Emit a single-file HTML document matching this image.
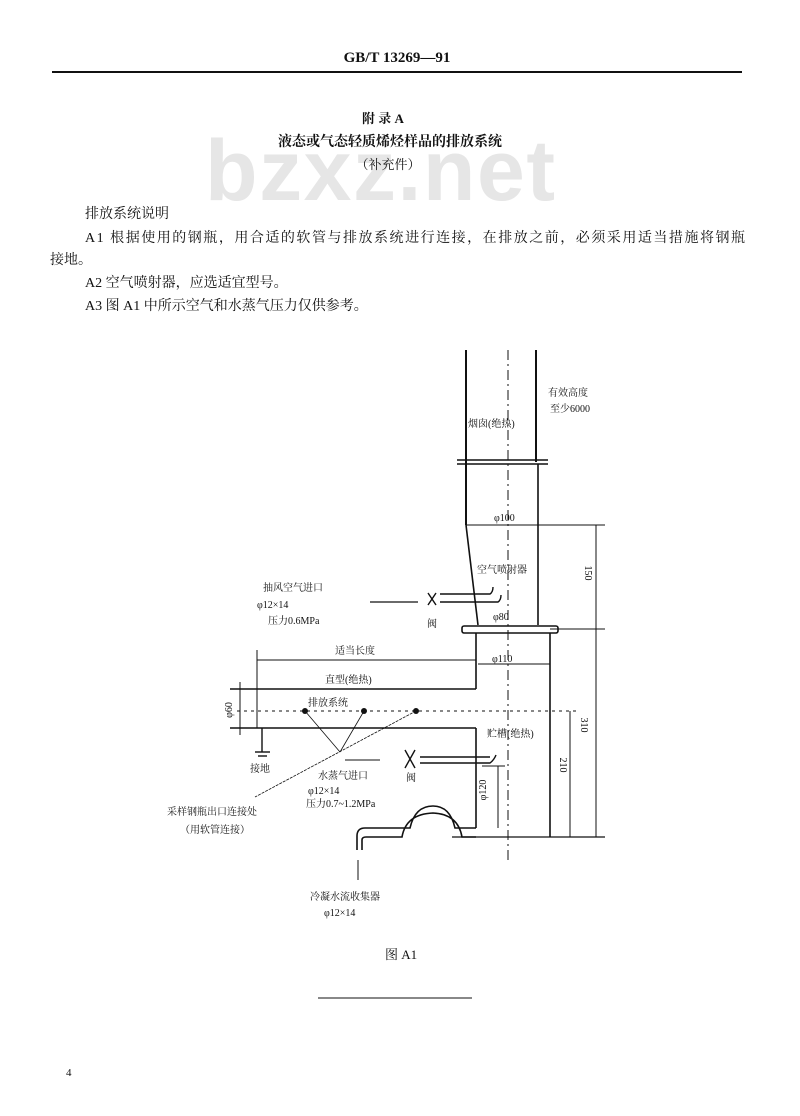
<!DOCTYPE html>
<html><head><meta charset="utf-8"><style>
body{margin:0;background:#fff;}
svg{display:block}
text{font-family:"Liberation Serif","Noto Serif CJK SC","Noto Sans CJK SC",serif;fill:#111}
.s{font-size:10px}
</style></head><body>
<svg width="800" height="1116" viewBox="0 0 800 1116" xmlns="http://www.w3.org/2000/svg">
<rect width="800" height="1116" fill="#fff"/>
<text x="397" y="62" font-size="15" font-weight="bold" text-anchor="middle">GB/T 13269—91</text>
<line x1="52" y1="72" x2="742" y2="72" stroke="#111" stroke-width="2"/>
<text x="205" y="200" font-size="86" font-weight="bold" textLength="350" style="fill:#e6e6e6;font-family:'Liberation Sans',sans-serif">bzxz.net</text>
<text x="383" y="123" font-size="13" font-weight="bold" text-anchor="middle">附  录  A</text>
<text x="390" y="146" font-size="14" font-weight="bold" text-anchor="middle">液态或气态轻质烯烃样品的排放系统</text>
<text x="388" y="169" font-size="13" text-anchor="middle">（补充件）</text>
<text x="85" y="218" font-size="14">排放系统说明</text>
<text x="85" y="242" font-size="14" textLength="660">A1  根据使用的钢瓶，用合适的软管与排放系统进行连接，在排放之前，必须采用适当措施将钢瓶</text>
<text x="50" y="264" font-size="14">接地。</text>
<text x="85" y="287" font-size="14">A2  空气喷射器，应选适宜型号。</text>
<text x="85" y="310" font-size="14">A3  图 A1 中所示空气和水蒸气压力仅供参考。</text>
<g stroke="#111" fill="none" stroke-width="1.4">
<line x1="466" y1="350" x2="466" y2="525" stroke-width="2"/>
<line x1="536" y1="350" x2="536" y2="462" stroke-width="2"/>
<line x1="457" y1="460" x2="548" y2="460"/><line x1="457" y1="464" x2="548" y2="464"/>
<line x1="538" y1="464" x2="538" y2="625" stroke-width="1.6"/>
<line x1="466" y1="525" x2="478" y2="625" stroke-width="1.6"/>
<line x1="466" y1="525" x2="605" y2="525" stroke-width="1"/>
<line x1="508" y1="350" x2="508" y2="860" stroke-dasharray="10,4,2,4" stroke-width="1"/>
<rect x="462" y="626" width="96" height="7" rx="2" stroke-width="1.6"/>
<line x1="476" y1="633" x2="476" y2="660" stroke-width="1.6"/>
<line x1="550" y1="633" x2="550" y2="837" stroke-width="1.6"/>
<line x1="478" y1="664" x2="550" y2="664" stroke-width="1"/>
<line x1="257" y1="660" x2="476" y2="660" stroke-width="1"/>
<line x1="257" y1="650" x2="257" y2="728" stroke-width="1"/>
<line x1="476" y1="660" x2="476" y2="689" stroke-width="1.6"/>
<line x1="230" y1="689" x2="476" y2="689" stroke-width="1.6"/>
<line x1="237" y1="711" x2="580" y2="711" stroke-dasharray="3,4" stroke-width="1"/>
<line x1="230" y1="728" x2="476" y2="728" stroke-width="1.6"/>
<line x1="476" y1="728" x2="476" y2="828" stroke-width="1.6"/>
<line x1="240" y1="682" x2="240" y2="735" stroke-width="1"/>
<line x1="262" y1="728" x2="262" y2="752"/>
<line x1="255" y1="752" x2="270" y2="752"/><line x1="258" y1="756" x2="267" y2="756"/>
<line x1="452" y1="837" x2="605" y2="837" stroke-width="1.2"/>
<path d="M476 828 L455 828 Q450 806 433 806 Q415 806 410 828 L365 828 Q357 828 357 836 L357 850 M362 850 L362 840 Q362 837 366 837 L402 837 Q406 814 433 813 Q458 814 462 837 L476 837" stroke-width="1.6"/>
<line x1="358" y1="860" x2="358" y2="880" stroke-width="1"/>
<line x1="596" y1="525" x2="596" y2="837" stroke-width="1"/>
<line x1="550" y1="629" x2="605" y2="629" stroke-width="1"/>
<line x1="570" y1="711" x2="570" y2="837" stroke-width="1"/>
<line x1="498" y1="766" x2="498" y2="828" stroke-width="1"/>
<line x1="482" y1="766" x2="505" y2="766" stroke-width="1"/>
<path d="M440 594 L490 594 Q493 592 493 587 M440 602 L498 602 Q501 600 501 595" stroke-width="1.4"/>
<path d="M428 593 L436 605 M436 593 L428 605" stroke-width="1.4"/>
<line x1="370" y1="602" x2="418" y2="602" stroke-width="1.2"/>
<path d="M420 757 L490 757 M420 763 L490 763 Q494 760 496 755" stroke-width="1.4"/>
<path d="M405 750 L415 768 M415 750 L405 768" stroke-width="1.4"/>
<line x1="345" y1="760" x2="380" y2="760" stroke-width="1"/>
<line x1="305" y1="711" x2="340" y2="752" stroke-width="0.8"/>
<line x1="364" y1="711" x2="340" y2="752" stroke-width="0.8"/>
<line x1="416" y1="711" x2="255" y2="797" stroke-width="0.8" stroke-dasharray="3,1"/>
</g>
<circle cx="305" cy="711" r="3" fill="#111"/><circle cx="364" cy="711" r="3" fill="#111"/><circle cx="416" cy="711" r="3" fill="#111"/>
<text class="s" x="468" y="427">烟囱(绝热)</text>
<text class="s" x="548" y="396">有效高度</text>
<text class="s" x="550" y="412">至少6000</text>
<text class="s" x="494" y="521">φ100</text>
<text class="s" x="477" y="573">空气喷射器</text>
<text class="s" x="493" y="620">φ80</text>
<text class="s" x="492" y="662">φ110</text>
<text class="s" x="263" y="591">抽风空气进口</text>
<text class="s" x="257" y="608">φ12×14</text>
<text class="s" x="268" y="624">压力0.6MPa</text>
<text class="s" x="427" y="627">阀</text>
<text class="s" x="335" y="654">适当长度</text>
<text class="s" x="325" y="683">直型(绝热)</text>
<text class="s" x="308" y="706">排放系统</text>
<text class="s" x="487" y="737">贮槽(绝热)</text>
<text class="s" x="250" y="772">接地</text>
<text class="s" x="406" y="781">阀</text>
<text class="s" x="318" y="779">水蒸气进口</text>
<text class="s" x="308" y="794">φ12×14</text>
<text class="s" x="306" y="807">压力0.7~1.2MPa</text>
<text class="s" x="167" y="815">采样钢瓶出口连接处</text>
<text class="s" x="180" y="833">（用软管连接）</text>
<text class="s" x="310" y="900">冷凝水流收集器</text>
<text class="s" x="324" y="916">φ12×14</text>
<text class="s" transform="translate(585,573) rotate(90)" text-anchor="middle">150</text>
<text class="s" transform="translate(581,725) rotate(90)" text-anchor="middle">310</text>
<text class="s" transform="translate(560,765) rotate(90)" text-anchor="middle">210</text>
<text class="s" transform="translate(486,790) rotate(-90)" text-anchor="middle">φ120</text>
<text class="s" transform="translate(232,710) rotate(-90)" text-anchor="middle">φ60</text>
<text x="385" y="959" font-size="13">图 A1</text>
<line x1="318" y1="998" x2="472" y2="998" stroke="#111" stroke-width="1"/>
<text x="66" y="1076" font-size="11">4</text>
</svg>
</body></html>
